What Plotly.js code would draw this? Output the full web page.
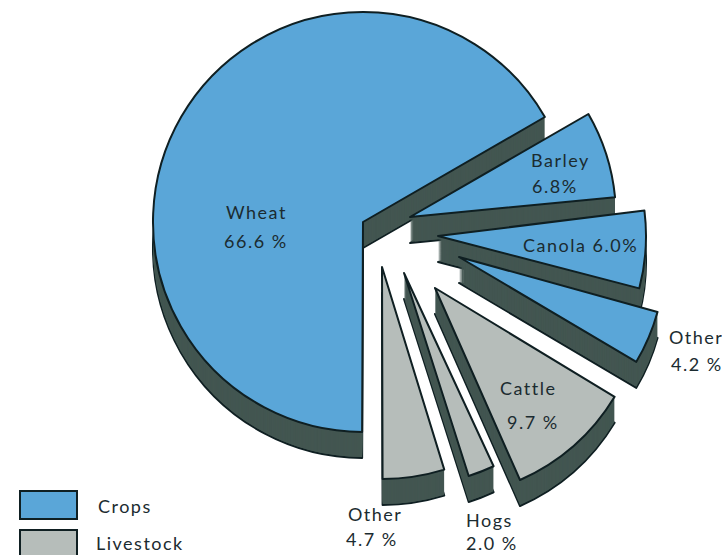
<!DOCTYPE html>
<html>
<head>
<meta charset="utf-8">
<script src="https://cdn.plot.ly/plotly-3.0.1.min.js"></script>
<style>
html,body{margin:0;padding:0;background:#fff;overflow:hidden}
#chart{width:722px;height:555px}
.annotation-text{letter-spacing:1.5px}
</style>
</head>
<body>
<div id="chart"></div>
<script>
// Data, clockwise from the top of the pie
const categories = ['Barley', 'Canola', 'Other', 'Cattle', 'Hogs', 'Other', 'Wheat'];
const shares     = [6.8, 6.0, 4.2, 9.7, 2.0, 4.7, 66.6];
const groups     = ['Crops', 'Crops', 'Crops', 'Livestock', 'Livestock', 'Livestock', 'Crops'];
const legendNames = ['Crops', 'Livestock'];

// Layout of the exploded pie (pixels, degrees)
const W = 722, H = 555;
const START_ANGLE = 60;
const DEPTH = 26;
const centres = [[410,217],[438,236],[459,257],[435,288],[404,273],[382,267],[363,222]];
const radii   = [206, 208, 206, 210, 213, 212, 210];
const angleNudge = [0, -1.5, -0.6, 0, -1, -0.4, 0];
const FILL = {Crops: '#5aa6d8', Livestock: '#b6bdba'};
const SIDE = '#435651';
const EDGE = '#0f1f22';

// Slice start angles follow from the shares
const starts = [];
shares.reduce((a, s, i) => { starts[i] = a + angleNudge[i]; return a + s * 3.6; }, START_ANGLE);

function sliceTrace(i, d, color, lineW) {
  const [cx, cy] = centres[i], r = radii[i], yc = cy + d;
  return {
    type: 'pie', sort: false, direction: 'clockwise',
    values: [shares[i], 100 - shares[i]],
    labels: [categories[i] + ' ' + i, 'rest ' + i],
    rotation: starts[i] % 360,
    domain: {x: [(cx - r) / W, (cx + r) / W], y: [1 - (yc + r) / H, 1 - (yc - r) / H]},
    marker: {colors: [color, 'rgba(0,0,0,0)'],
             line: {color: [EDGE, 'rgba(0,0,0,0)'], width: [lineW, 0]}},
    textinfo: 'none', hoverinfo: 'skip', showlegend: false
  };
}

const data = [];
for (let d = DEPTH; d > 0; d--) {
  shares.forEach((_, i) => data.push(sliceTrace(i, d, SIDE, d === DEPTH ? 2 : 0)));
}
shares.forEach((_, i) => data.push(sliceTrace(i, 0, FILL[groups[i]], 2)));

// Text
const FONT = {family: 'Lato, "Open Sans", sans-serif', size: 18, color: '#1b2b30'};
const pct = (v, sp) => v.toFixed(1) + (sp ? ' %' : '%');
const textItems = [
  [categories[6], 256, 212, 'center'], [pct(shares[6], true), 256, 241, 'center'],
  [categories[0], 560, 160, 'center'], [pct(shares[0], false), 555, 186, 'center'],
  [categories[1] + ' ' + pct(shares[1], false), 580, 245, 'center'],
  [categories[2], 667, 337, 'left'], [pct(shares[2], true), 669, 364, 'left'],
  [categories[3], 528, 388, 'center'], [pct(shares[3], true), 533, 422, 'center'],
  [categories[5], 375, 514, 'center'], [pct(shares[5], true), 372, 539, 'center'],
  [categories[4], 490, 520, 'center'], [pct(shares[4], true), 492, 543, 'center'],
  [legendNames[0], 96, 506, 'left'], [legendNames[1], 94, 543, 'left']
];
const annotations = textItems.map(([text, x, y, anchor]) => ({
  text, x: x / W, y: 1 - y / H, xref: 'paper', yref: 'paper',
  xanchor: anchor, yanchor: 'middle', showarrow: false, font: FONT
}));

const swatch = (name, y0, y1) => ({
  type: 'rect', xref: 'paper', yref: 'paper',
  x0: 20 / W, x1: 77 / W, y0: 1 - y1 / H, y1: 1 - y0 / H,
  fillcolor: FILL[name], line: {color: EDGE, width: 2}
});

Plotly.newPlot('chart', data, {
  width: W, height: H, margin: {l: 0, r: 0, t: 0, b: 0},
  paper_bgcolor: '#fff', plot_bgcolor: '#fff', showlegend: false,
  annotations,
  shapes: [swatch(legendNames[0], 491, 519), swatch(legendNames[1], 530, 556)]
}, {displayModeBar: false, staticPlot: true});
</script>
</body>
</html>
